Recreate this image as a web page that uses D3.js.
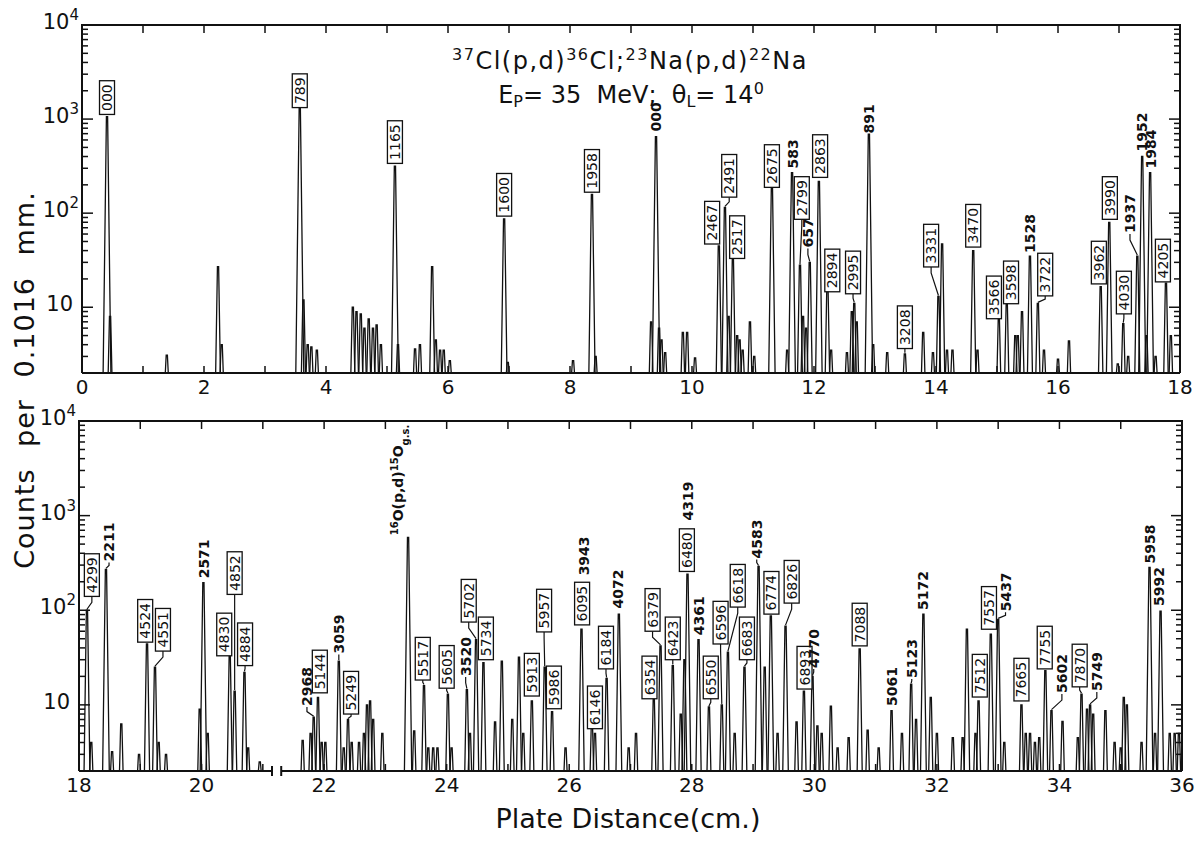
<!DOCTYPE html>
<html>
<head>
<meta charset="utf-8">
<script src="https://cdn.jsdelivr.net/npm/d3@7"></script>
<style>
  body { margin: 0; background: #fff; }
  svg { display: block; }
  text { font-family: "DejaVu Sans", sans-serif; fill: #111; }
</style>
</head>
<body>
<svg id="chart" width="1199" height="841"></svg>
<script>

// peaks: [distance cm, counts]
var topPeaks = [
  [0.41,1060],[0.46,8],[1.39,3.1],[2.23,27],[2.29,4],[3.57,1320],[3.63,12],[3.7,4],[3.76,3.8],[3.85,3.5],
  [4.44,10],[4.5,9],[4.57,8.5],[4.63,6],[4.7,7.5],[4.77,6],[4.83,6.5],[4.9,4],[5.13,316],[5.18,4],
  [5.46,3.6],[5.54,4],[5.74,27],[5.8,4.5],[5.87,3.5],[5.93,3.5],[6.03,2.7],[6.92,87],[6.98,2.6],[8.05,2.7],
  [8.36,158],[8.42,3],[9.33,7],[9.41,650],[9.46,6],[9.5,4.5],[9.56,3.3],[9.85,5.4],[9.92,5.4],[10.05,2.9],
  [10.44,45],[10.54,115],[10.6,8],[10.67,32],[10.74,5],[10.78,4.5],[10.83,3.5],[10.95,7],[11.02,3],[11.31,188],
  [11.56,3.5],[11.64,270],[11.77,28],[11.82,8],[11.87,6],[11.93,30],[12.08,218],[12.22,17],[12.28,3.5],[12.54,3.3],
  [12.62,9],[12.66,11],[12.7,7],[12.9,690],[12.97,4],[13.2,3.3],[13.49,3.2],[13.79,5.4],[13.95,3.3],[14.04,13],
  [14.1,47],[14.18,3.5],[14.27,3.5],[14.61,40],[14.68,3.5],[15.03,7.5],[15.16,11],[15.3,5],[15.34,5],[15.41,9],
  [15.54,35],[15.67,11],[15.77,3.5],[16.0,2.8],[16.18,4.4],[16.7,16.6],[16.84,80],[16.98,2.5],[17.07,6.7],[17.15,3],
  [17.3,35],[17.38,400],[17.45,5],[17.51,270],[17.6,3],[17.77,18],[17.85,5]
];

var bottomPeaks = [
  [18.13,100],[18.2,4],[18.44,270],[18.54,3.2],[18.69,6.3],[18.98,3],[19.11,44],[19.24,25],[19.3,4],[19.42,3],
  [19.97,9],[20.03,196],[20.1,5],[20.46,33],[20.54,14],[20.7,22],[20.76,3.5],[20.95,2.5],
  [21.65,4.2],[21.78,5],[21.83,7.4],[21.9,12],[21.96,4],[22.02,4],[22.24,29],[22.32,3.5],[22.39,7],[22.45,4],
  [22.57,4],[22.65,5],[22.7,10],[22.75,11],[22.8,7],[22.95,5],[23.37,590],[23.47,5.3],[23.63,16],[23.7,3.5],
  [23.78,3.5],[23.85,3.5],[24.02,13],[24.08,3.5],[24.33,14.5],[24.38,5],[24.48,49],[24.6,28],[24.79,6.6],[24.9,29],
  [25.07,7],[25.18,32],[25.25,5],[25.39,11],[25.6,25],[25.72,8.5],[25.94,3.5],[26.2,63],[26.37,6.3],[26.42,5],
  [26.61,19],[26.81,91],[26.97,3.5],[27.09,5],[27.38,11.5],[27.49,42],[27.69,26],[27.82,8],[27.88,30],[27.93,240],
  [28.11,49],[28.28,9.5],[28.49,10],[28.59,36],[28.7,5],[28.86,25],[29.09,290],[29.19,25],[29.29,87],[29.4,5],
  [29.53,68],[29.71,6.6],[29.83,14],[29.97,20],[30.05,6],[30.12,5],[30.27,9.7],[30.38,3.5],[30.56,4.5],[30.74,39],
  [30.87,5.4],[31.05,3.5],[31.26,8.7],[31.43,5],[31.58,16.6],[31.66,7],[31.78,91],[31.9,12],[32.0,5],[32.26,4.5],
  [32.42,4.5],[32.49,63],[32.63,5],[32.68,11],[32.88,56],[33.0,80],[33.1,4],[33.38,10],[33.45,5],[33.52,5],
  [33.6,4],[33.67,4.5],[33.77,23],[33.87,8.7],[34.05,6.7],[34.3,4.5],[34.36,13],[34.45,9],[34.5,10],[34.55,8],
  [34.75,8.7],[34.9,4],[35.0,3.5],[35.05,12],[35.1,10],[35.34,4],[35.47,283],[35.56,5],[35.65,98],[35.8,5],
  [35.88,5],[35.95,5]
];

// level labels: [text, peak cm (null = no leader), label cm, counts at label foot, boxed]
var topLabels = [
  ["000",0.41,0.41,1120,1],["789",3.57,3.57,1325,1],["1165",5.13,5.13,338,1],["1600",6.92,6.92,93,1],
  ["1958",8.36,8.36,167,1],["000",9.41,9.41,720,0],["2467",10.44,10.33,47,1],["2491",10.54,10.61,148,1],
  ["2517",10.67,10.74,33,1],["2675",11.31,11.31,188,1],["583",11.64,11.66,292,0],["2799",11.77,11.8,86,1],
  ["657",11.93,11.9,42,0],["2863",12.08,12.1,240,1],["2894",12.22,12.3,14.6,1],["2995",12.66,12.64,13.9,1],
  ["891",12.9,12.9,686,0],["3208",13.49,13.49,3.64,1],["3331",14.04,13.92,26.8,1],["3470",14.61,14.61,43.6,1],
  ["3566",15.03,14.95,7.55,1],["3598",15.16,15.23,10.9,1],["1528",15.54,15.54,36.8,0],["3722",15.67,15.79,13.2,1],
  ["3962",16.7,16.67,17.7,1],["3990",16.84,16.85,86,1],["4030",17.07,17.08,8.5,1],["1937",17.3,17.18,60,0],
  ["1952",17.38,17.38,442,0],["1984",17.51,17.52,292,0],["4205",17.77,17.72,18.6,1]
];

var bottomLabels = [
  ["4299",18.13,18.21,140,1],["2211",18.44,18.49,320,0],["4524",19.11,19.08,46,1],["4551",19.24,19.37,37,1],
  ["2571",20.03,20.04,212,0],["4830",20.46,20.37,33,1],["4852",20.54,20.54,147,1],["4884",20.7,20.71,26,1],
  ["2968",21.83,21.72,9.5,0],["5144",21.9,21.93,13.4,1],["3059",22.24,22.24,34,0],["5249",22.39,22.44,8,1],
  ["5517",23.63,23.61,18.3,1],["5605",24.02,24.0,15,1],["3520",24.33,24.31,19.7,0],["5702",24.48,24.36,75,1],
  ["5734",24.6,24.64,30,1],["5913",25.39,25.39,12.4,1],["5957",25.6,25.59,59,1],["5986",25.72,25.75,9.1,1],
  ["6095",26.2,26.21,70,1],["3943",null,26.24,228,0],["6146",26.37,26.42,5.6,1],["6184",26.61,26.6,24,1],
  ["4072",26.81,26.79,102,0],["6354",27.38,27.31,11.6,1],["6379",27.49,27.36,60,1],["6423",27.69,27.69,30,1],
  ["6480",27.93,27.92,257,1],["4319",null,27.93,865,0],["4361",28.11,28.11,53,0],["6550",28.28,28.31,11.6,1],
  ["6596",28.49,28.47,44,1],["6618",28.59,28.75,108,1],["6683",28.86,28.9,30,1],["4583",29.09,29.06,344,0],
  ["6774",29.29,29.3,91,1],["6826",29.53,29.63,119,1],["6893",29.83,29.84,14.7,1],["4770",29.97,29.99,24,0],
  ["7088",30.74,30.74,42,1],["5061",31.26,31.26,9.5,0],["5123",31.58,31.59,18.8,0],["5172",31.78,31.78,98,0],
  ["7512",32.68,32.7,12.1,1],["7557",32.88,32.85,63,1],["5437",33.0,33.12,95,0],["7665",33.38,33.38,11,1],
  ["7755",33.77,33.76,24,1],["5602",33.87,34.04,13,0],["7870",34.36,34.33,15.5,1],["5749",34.5,34.61,13.7,0],
  ["5958",35.47,35.47,305,0],["5992",35.65,35.63,108,0]
];

// 16O(p,d)15O g.s. marker: [peak cm, label cm, counts at foot]
var oxygenLabel = [23.37, 23.3, 620];

var topTicks = [0, 2, 4, 6, 8, 10, 12, 14, 16, 18];
var bottomTicks = [18, 20, 22, 24, 26, 28, 30, 32, 34, 36];
var decades = [[10000, "4"], [1000, "3"], [100, "2"], [10, ""]];
var axisBreak = [21.15, 21.3];

var svg = d3.select("#chart");

function drawPanel(p) {
  var x = d3.scaleLinear().domain(p.domain).range([p.left, p.right]);
  var y = d3.scaleLog().domain([2, 10000]).range([p.bottom, p.top]);
  var g = svg.append("g");
  var line = d3.line();

  // spectrum spikes
  g.append("g").selectAll("path")
    .data(p.peaks)
    .enter().append("path")
      .attr("d", function(d) {
        var cx = x(d[0]), ty = y(d[1]);
        var hw = 1.3 + 0.95 * Math.log10(d[1] / 2);
        return line([[cx - hw, p.bottom], [cx - 0.6, ty], [cx + 0.6, ty], [cx + hw, p.bottom]]);
      })
      .attr("fill", "none")
      .attr("stroke", "#111")
      .attr("stroke-width", 1.3);

  // frame
  var frame = g.append("g").attr("stroke", "#111").attr("stroke-width", 2).attr("fill", "none");
  frame.append("path").attr("d", line([[p.left, p.bottom], [p.left, p.top], [p.right, p.top], [p.right, p.bottom]]));
  if (p.gap) {
    var a = x(p.gap[0]), b = x(p.gap[1]);
    frame.append("path").attr("d", line([[p.left, p.bottom], [a, p.bottom]]));
    frame.append("path").attr("d", line([[b, p.bottom], [p.right, p.bottom]]));
    frame.append("path").attr("d", line([[a, p.bottom - 5], [a, p.bottom + 5]]));
    frame.append("path").attr("d", line([[b, p.bottom - 5], [b, p.bottom + 5]]));
  } else {
    frame.append("path").attr("d", line([[p.left, p.bottom], [p.right, p.bottom]]));
  }

  // log ticks, inward on both sides
  var ticks = [];
  [1, 10, 100, 1000].forEach(function(dec) {
    for (var k = 2; k <= 10; k++) {
      var v = k * dec;
      if (v > 2 && v < 10000) ticks.push([v, k === 10 ? 11 : 6]);
    }
  });
  var tk = g.append("g").attr("stroke", "#111").attr("stroke-width", 1.5);
  ticks.forEach(function(t) {
    var yy = y(t[0]);
    tk.append("line").attr("x1", p.left).attr("x2", p.left + t[1]).attr("y1", yy).attr("y2", yy);
    tk.append("line").attr("x1", p.right).attr("x2", p.right - t[1]).attr("y1", yy).attr("y2", yy);
  });
  d3.range(p.domain[0] + 1, p.domain[1]).forEach(function(v) {
    var xx = x(v);
    tk.append("line").attr("x1", xx).attr("x2", xx).attr("y1", p.top).attr("y2", p.top + 8);
    tk.append("line").attr("x1", xx).attr("x2", xx).attr("y1", p.bottom).attr("y2", p.bottom - 7);
  });

  // tick labels
  g.append("g").selectAll("text")
    .data(p.tickValues)
    .enter().append("text")
      .attr("x", function(d) { return x(d); })
      .attr("y", p.bottom + 21)
      .attr("text-anchor", "middle")
      .style("font-size", "20px")
      .text(function(d) { return d; });

  decades.forEach(function(d) {
    var t = g.append("text")
      .attr("x", d[1] ? p.left - 3 : p.left - 9)
      .attr("y", y(d[0]) + 4)
      .attr("text-anchor", "end")
      .style("font-size", "21px")
      .text("10");
    if (d[1]) t.append("tspan").attr("dy", -9).style("font-size", "15px").text(d[1]);
  });

  // level labels
  var lab = g.append("g");
  p.labels.forEach(function(d) {
    var lx = x(d[2]), ly = y(d[3]);
    if (d[1] !== null) {
      var pk = p.peaks.reduce(function(best, q) {
        return Math.abs(q[0] - d[1]) < Math.abs(best[0] - d[1]) ? q : best;
      });
      var px = x(pk[0]), py = y(pk[1]) - 1;
      if (py - ly > 4) {
        lab.append("path")
          .attr("d", line([[lx, ly], [lx, ly + Math.min(6, (py - ly) / 2)], [px, py]]))
          .attr("fill", "none").attr("stroke", "#111").attr("stroke-width", 1.2);
      }
    }
    var gl = lab.append("g").attr("transform", "translate(" + lx + "," + ly + ") rotate(-90)");
    var pad = d[4] ? 3.5 : 1;
    var txt = gl.append("text")
      .attr("x", pad)
      .attr("y", 0)
      .attr("dy", "0.36em")
      .style("font-size", "14px")
      .style("font-weight", d[4] ? "normal" : "bold")
      .text(d[0]);
    if (d[4]) {
      var len = txt.node().getComputedTextLength();
      gl.insert("rect", "text")
        .attr("x", 0).attr("y", -7.5)
        .attr("width", len + 2 * pad).attr("height", 15)
        .attr("fill", "#fff").attr("stroke", "#111").attr("stroke-width", 1.3);
    }
  });
  return {x: x, y: y, g: g};
}

var topPanel = drawPanel({
  peaks: topPeaks, labels: topLabels, domain: [0, 18], tickValues: topTicks,
  left: 82, right: 1180, top: 25, bottom: 373
});

var bottomPanel = drawPanel({
  peaks: bottomPeaks, labels: bottomLabels, domain: [18, 36], tickValues: bottomTicks, gap: axisBreak,
  left: 79, right: 1182, top: 421, bottom: 771
});

// 16O(p,d)15O g.s. label
var ox = bottomPanel.x(oxygenLabel[1]), oy = bottomPanel.y(oxygenLabel[2]);
var ot = bottomPanel.g.append("text")
  .attr("transform", "translate(" + ox + "," + oy + ") rotate(-90)")
  .attr("dy", "0.36em")
  .style("font-size", "14px")
  .style("font-weight", "bold");
ot.append("tspan").attr("dy", "-0.05em").style("font-size", "10px").attr("baseline-shift", "super").text("16");
ot.append("tspan").text("O(p,d)");
ot.append("tspan").style("font-size", "10px").attr("baseline-shift", "super").text("15");
ot.append("tspan").text("O");
ot.append("tspan").style("font-size", "10px").attr("baseline-shift", "sub").text("g.s.");

// titles
var title = svg.append("text")
  .attr("x", 630).attr("y", 69)
  .attr("text-anchor", "middle")
  .style("font-size", "24px")
  .style("letter-spacing", "1.5px");
[["37", 1], ["Cl(p,d)", 0], ["36", 1], ["Cl;", 0], ["23", 1], ["Na(p,d)", 0], ["22", 1], ["Na", 0]].forEach(function(s) {
  var t = title.append("tspan").text(s[0]);
  if (s[1]) t.style("font-size", "16px").attr("baseline-shift", "55%");
});

var sub = svg.append("text")
  .attr("x", 631).attr("y", 103)
  .attr("text-anchor", "middle")
  .style("font-size", "24px")
  .attr("xml:space", "preserve");
sub.append("tspan").text("E");
sub.append("tspan").style("font-size", "16px").attr("baseline-shift", "-25%").text("P");
sub.append("tspan").text("= 35  MeV;  \u03b8");
sub.append("tspan").style("font-size", "16px").attr("baseline-shift", "-25%").text("L");
sub.append("tspan").text("= 14");
sub.append("tspan").style("font-size", "16px").attr("baseline-shift", "55%").text("0");

svg.append("text")
  .attr("x", 628).attr("y", 828)
  .attr("text-anchor", "middle")
  .style("font-size", "27px")
  .text("Plate Distance(cm.)");

svg.append("text")
  .attr("transform", "translate(34,380) rotate(-90)")
  .attr("text-anchor", "middle")
  .style("font-size", "27px")
  .style("letter-spacing", "1px")
  .style("word-spacing", "12px")
  .text("Counts per 0.1016 mm.");

</script>
</body>
</html>
